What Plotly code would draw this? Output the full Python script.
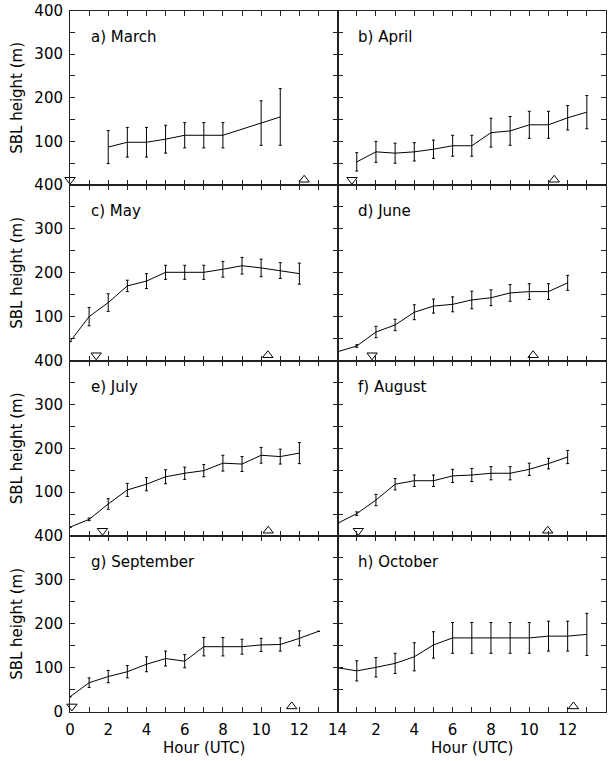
import plotly.graph_objects as go

# ---------------- data ----------------
panel_labels = ["a) March", "b) April", "c) May", "d) June",
                "e) July", "f) August", "g) September", "h) October"]

march_hour = [2, 3, 4, 5, 6, 7, 8, 10, 11]
march_sbl = [87, 98, 98, 105, 114, 114, 114, 142, 156]
march_err = [38, 34, 34, 32, 29, 29, 29, 51, 65]

april_hour = [1, 2, 3, 4, 5, 6, 7, 8, 9, 10, 11, 12, 13]
april_sbl = [53, 76, 73, 76, 82, 90, 90, 120, 124, 138, 138, 154, 167]
april_err = [21, 24, 23, 21, 21, 24, 24, 33, 33, 31, 31, 28, 38]

may_hour = [0, 1, 2, 3, 4, 5, 6, 7, 8, 9, 10, 11, 12]
may_sbl = [43, 100, 132, 170, 181, 201, 201, 201, 208, 216, 211, 205, 198]
may_err = [None, 21, 20, 13, 17, 16, 16, 16, 18, 19, 20, 18, 24]

june_hour = [0, 1, 2, 3, 4, 5, 6, 7, 8, 9, 10, 11, 12]
june_sbl = [20, 33, 65, 81, 110, 124, 128, 138, 143, 154, 157, 157, 177]
june_err = [None, 3, 13, 13, 17, 16, 17, 20, 18, 19, 18, 18, 17]

july_hour = [0, 1, 2, 3, 4, 5, 6, 7, 8, 9, 10, 11, 12]
july_sbl = [20, 38, 73, 105, 118, 135, 143, 149, 166, 164, 184, 181, 189]
july_err = [None, 3, 12, 15, 15, 16, 14, 14, 18, 17, 18, 17, 24]

august_hour = [0, 1, 2, 3, 4, 5, 6, 7, 8, 9, 10, 11, 12]
august_sbl = [29, 51, 82, 118, 126, 126, 137, 139, 143, 143, 152, 165, 180]
august_err = [None, 4, 13, 13, 13, 13, 15, 15, 15, 15, 14, 12, 15]

september_hour = [0, 1, 2, 3, 4, 5, 6, 7, 8, 9, 10, 11, 12, 13]
september_sbl = [34, 66, 80, 91, 108, 121, 115, 148, 148, 148, 152, 153, 167, 183]
september_err = [None, 11, 14, 14, 17, 17, 15, 21, 21, 17, 15, 15, 17, None]

october_hour = [0, 1, 2, 3, 4, 5, 6, 7, 8, 9, 10, 11, 12, 13]
october_sbl = [100, 93, 101, 110, 125, 152, 168, 168, 168, 168, 168, 172, 172, 176]
october_err = [None, 23, 22, 23, 32, 30, 35, 35, 35, 35, 35, 34, 34, 48]

# sunset (down triangle) and sunrise (up triangle) hours, None = not shown
sunset_hour = [0.0, 0.75, 1.37, 1.8, 1.7, 1.08, 0.1, None]
sunrise_hour = [12.25, 11.3, 10.35, 10.2, 10.37, 10.96, 11.6, 12.3]

x_ticks = [0, 2, 4, 6, 8, 10, 12, 14]
y_ticks = [0, 100, 200, 300, 400]

series = [
    (march_hour, march_sbl, march_err),
    (april_hour, april_sbl, april_err),
    (may_hour, may_sbl, may_err),
    (june_hour, june_sbl, june_err),
    (july_hour, july_sbl, july_err),
    (august_hour, august_sbl, august_err),
    (september_hour, september_sbl, september_err),
    (october_hour, october_sbl, october_err),
]

# ---------------- layout geometry ----------------
W, H = 613, 761
x_edges = [70 / W, 337.6 / W, 606 / W]
y_px = [10.5, 185, 360.5, 536, 711.7]
y_edges = [1 - p / H for p in y_px]

FONT = "DejaVu Sans"
FS = 15
AXC = "#222222"

fig = go.Figure()
layout = dict(
    width=W, height=H,
    margin=dict(l=0, r=0, t=0, b=0, autoexpand=False),
    paper_bgcolor="white", plot_bgcolor="white",
    showlegend=False,
    font=dict(family=FONT, size=FS, color="black"),
    annotations=[],
)

MARK_Y = 12

for i, (hx, hy, he) in enumerate(series):
    row, col = i // 2, i % 2
    n = i + 1
    xa = "x" if n == 1 else f"x{n}"
    ya = "y" if n == 1 else f"y{n}"
    xkey = "xaxis" if n == 1 else f"xaxis{n}"
    ykey = "yaxis" if n == 1 else f"yaxis{n}"

    fig.add_trace(go.Scatter(
        x=hx, y=hy, mode="lines", xaxis=xa, yaxis=ya,
        line=dict(color="black", width=1),
        error_y=dict(type="data", array=he, visible=True,
                     color="black", thickness=1, width=1.5),
    ))
    mx, my, ms = [], [], []
    if sunset_hour[i] is not None:
        mx.append(sunset_hour[i]); my.append(MARK_Y); ms.append("triangle-down-open")
    if sunrise_hour[i] is not None:
        mx.append(sunrise_hour[i]); my.append(MARK_Y); ms.append("triangle-up-open")
    fig.add_trace(go.Scatter(
        x=mx, y=my, mode="markers", xaxis=xa, yaxis=ya, cliponaxis=False,
        marker=dict(symbol=ms, size=9, color="black", line=dict(width=1, color="black")),
    ))

    bottom = row == 3
    xaxis = dict(
        domain=[x_edges[col], x_edges[col + 1]], anchor=ya,
        range=[0, 14], showgrid=False, zeroline=False, automargin=False,
        showline=True, linecolor=AXC, linewidth=1, mirror="ticks",
        ticks="inside", ticklen=5, tickcolor=AXC, tickwidth=1,
        tickvals=x_ticks,
        minor=dict(ticks="inside", ticklen=5, tickcolor=AXC, dtick=1, tick0=0, showgrid=False),
        showticklabels=bottom,
        tickfont=dict(family=FONT, size=FS),
    )
    if bottom:
        xaxis["ticktext"] = [("" if (col == 1 and v == 0) else str(v)) for v in x_ticks]
        xaxis["ticklabelstandoff"] = 4
    layout[xkey] = xaxis

    yaxis = dict(
        domain=[y_edges[row + 1], y_edges[row]], anchor=xa,
        range=[0, 400], showgrid=False, zeroline=False, automargin=False,
        showline=True, linecolor=AXC, linewidth=1, mirror="ticks",
        ticks="inside", ticklen=5, tickcolor=AXC, tickwidth=1,
        tickvals=y_ticks,
        ticktext=[("" if (v == 0 and row < 3) else str(v)) for v in y_ticks],
        minor=dict(ticks="inside", ticklen=5, tickcolor=AXC, dtick=50, tick0=0, showgrid=False),
        showticklabels=(col == 0),
        tickfont=dict(family=FONT, size=FS),
        ticklabelstandoff=3,
    )
    layout[ykey] = yaxis

    layout["annotations"].append(dict(
        x=1.0 if col == 0 else 0.95, y=340, xref=xa, yref=ya,
        text=panel_labels[i], showarrow=False, xanchor="left", yanchor="middle",
        font=dict(family=FONT, size=FS),
    ))
    if col == 0:
        layout["annotations"].append(dict(
            x=17 / W, y=(y_edges[row] + y_edges[row + 1]) / 2,
            xref="paper", yref="paper", text="SBL height (m)", textangle=-90,
            showarrow=False, xanchor="center", yanchor="middle",
            font=dict(family=FONT, size=FS),
        ))
    if bottom:
        layout["annotations"].append(dict(
            x=(x_edges[col] + x_edges[col + 1]) / 2, y=1 - 748 / H,
            xref="paper", yref="paper", text="Hour (UTC)",
            showarrow=False, xanchor="center", yanchor="middle",
            font=dict(family=FONT, size=FS),
        ))

fig.update_layout(**layout)
fig.write_html("out.html", config={"displayModeBar": False},
               post_script="document.body.style.margin='0px';")
